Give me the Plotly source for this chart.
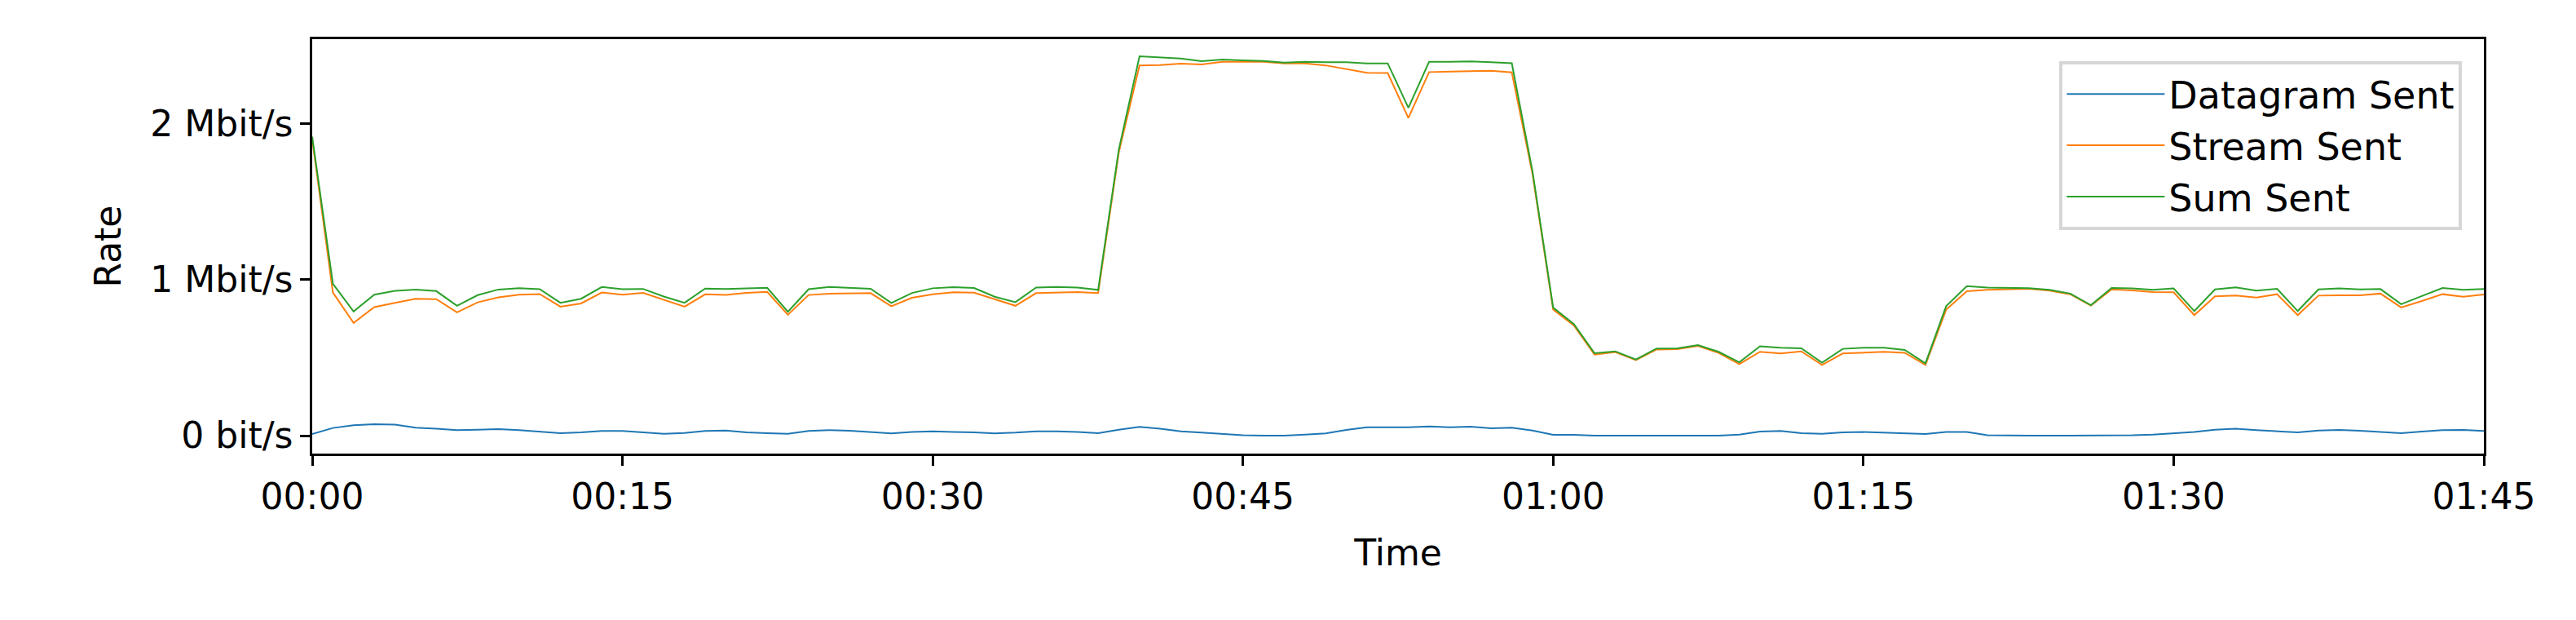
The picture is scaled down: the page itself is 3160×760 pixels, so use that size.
import plotly.graph_objects as go
import pandas as pd

# sample minutes since start (one sample per minute)
minutes = list(range(106))

datagram_sent = [
    0.01, 0.049, 0.066, 0.073, 0.071, 0.051, 0.045, 0.035, 0.038, 0.042,
    0.035, 0.024, 0.016, 0.021, 0.030, 0.030, 0.021, 0.012, 0.017, 0.030,
    0.033, 0.021, 0.016, 0.012, 0.030, 0.035, 0.031, 0.023, 0.014, 0.024,
    0.028, 0.024, 0.021, 0.014, 0.019, 0.028, 0.028, 0.023, 0.016, 0.038,
    0.056, 0.045, 0.028, 0.019, 0.010, 0.003, 0.0, 0.0, 0.007, 0.014,
    0.037, 0.054, 0.054, 0.054, 0.059, 0.054, 0.058, 0.047, 0.051, 0.033,
    0.005, 0.005, 0.0, 0.0, 0.0, 0.0, 0.0, 0.0, 0.0, 0.007,
    0.026, 0.030, 0.016, 0.012, 0.021, 0.023, 0.019, 0.012, 0.010, 0.024,
    0.024, 0.002, 0.0, 0.0, 0.0, 0.0, 0.0, 0.0, 0.002, 0.007,
    0.014, 0.023, 0.038, 0.044, 0.035, 0.028, 0.021, 0.033, 0.037, 0.031,
    0.023, 0.016, 0.026, 0.035, 0.037, 0.030,
]

stream_sent = [
    1.90, 0.917, 0.722, 0.823, 0.851, 0.877, 0.874, 0.790, 0.854, 0.886,
    0.903, 0.907, 0.826, 0.847, 0.917, 0.903, 0.914, 0.868, 0.826, 0.905,
    0.901, 0.914, 0.921, 0.774, 0.901, 0.910, 0.911, 0.913, 0.829, 0.883,
    0.906, 0.918, 0.916, 0.872, 0.832, 0.913, 0.916, 0.920, 0.913, 1.816,
    2.371, 2.374, 2.383, 2.378, 2.395, 2.395, 2.395, 2.385, 2.385, 2.372,
    2.350, 2.325, 2.323, 2.035, 2.329, 2.332, 2.332, 2.337, 2.327, 1.677,
    0.808, 0.706, 0.519, 0.535, 0.484, 0.552, 0.554, 0.575, 0.530, 0.458,
    0.537, 0.526, 0.540, 0.453, 0.526, 0.531, 0.537, 0.531, 0.453, 0.807,
    0.925, 0.934, 0.937, 0.941, 0.929, 0.906, 0.833, 0.937, 0.930, 0.920,
    0.918, 0.772, 0.892, 0.897, 0.885, 0.906, 0.772, 0.897, 0.899, 0.899,
    0.910, 0.821, 0.862, 0.906, 0.890, 0.904,
]

sum_sent = [
    1.915, 0.973, 0.795, 0.903, 0.928, 0.935, 0.926, 0.832, 0.900, 0.936,
    0.945, 0.938, 0.851, 0.877, 0.952, 0.938, 0.940, 0.891, 0.851, 0.942,
    0.940, 0.943, 0.947, 0.793, 0.938, 0.952, 0.945, 0.941, 0.850, 0.914,
    0.944, 0.951, 0.946, 0.890, 0.855, 0.949, 0.953, 0.949, 0.934, 1.834,
    2.430, 2.423, 2.416, 2.399, 2.409, 2.404, 2.400, 2.390, 2.395, 2.392,
    2.392, 2.385, 2.385, 2.100, 2.395, 2.395, 2.397, 2.392, 2.386, 1.694,
    0.820, 0.715, 0.528, 0.540, 0.488, 0.558, 0.559, 0.580, 0.537, 0.470,
    0.572, 0.563, 0.559, 0.467, 0.556, 0.563, 0.563, 0.549, 0.463, 0.829,
    0.958, 0.948, 0.946, 0.944, 0.934, 0.910, 0.836, 0.946, 0.943, 0.934,
    0.943, 0.798, 0.937, 0.950, 0.929, 0.941, 0.798, 0.937, 0.943, 0.937,
    0.939, 0.842, 0.894, 0.946, 0.934, 0.939,
]

y_tick_vals = [0, 1e6, 2e6]
y_tick_text = ["0 bit/s", "1 Mbit/s", "2 Mbit/s"]

t0 = pd.Timestamp("2000-01-01 00:00:00")
times = [t0 + pd.Timedelta(minutes=m) for m in minutes]

series = [
    ("Datagram Sent", datagram_sent, "#1f77b4"),
    ("Stream Sent", stream_sent, "#ff7f0e"),
    ("Sum Sent", sum_sent, "#2ca02c"),
]

fig = go.Figure()
for name, vals, color in series:
    fig.add_trace(go.Scatter(
        x=times,
        y=[v * 1e6 for v in vals],
        mode="lines",
        name=name,
        line=dict(color=color, width=2),
    ))

axis_style = dict(
    showline=True, linecolor="black", linewidth=2.5, mirror=True,
    ticks="outside", ticklen=12, tickwidth=2.5, tickcolor="black",
    showgrid=False, zeroline=False,
    tickfont=dict(size=44, color="black"),
)

fig.update_layout(
    width=3160, height=760,
    margin=dict(l=375, r=121, t=40, b=212),
    paper_bgcolor="white", plot_bgcolor="white",
    font=dict(family="DejaVu Sans", size=44, color="black"),
    xaxis=dict(
        **axis_style,
        type="date",
        range=[t0, t0 + pd.Timedelta(minutes=105)],
        dtick=15 * 60 * 1000,
        tickformat="%H:%M",
        title=dict(text="Time", font=dict(size=44), standoff=30),
    ),
    yaxis=dict(
        **axis_style,
        range=[-0.115e6, 2.54e6],
        tickvals=y_tick_vals,
        ticktext=y_tick_text,
        title=dict(text="Rate", font=dict(size=44), standoff=22),
    ),
    legend=dict(
        x=0.99, y=0.947, xanchor="right", yanchor="top",
        bgcolor="rgba(255,255,255,0.8)",
        bordercolor="#d6d6d6", borderwidth=4,
        font=dict(size=46),
        itemwidth=120,
    ),
)

fig.write_html("out.html")
